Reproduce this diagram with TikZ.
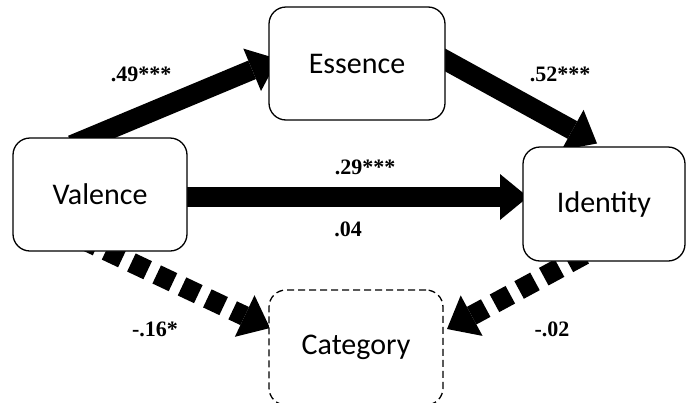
\documentclass[tikz,border=0pt]{standalone}
\usepackage{fontspec}
\setmainfont{Carlito}
\newfontfamily\labfont{Liberation Serif}
\usetikzlibrary{arrows.meta,backgrounds,calc}
\tikzset{
  varbox/.style={draw=black, line width=1.3pt, rounded corners=17pt, fill=white,
    inner sep=0pt, outer sep=0pt, font=\fontsize{30}{36}\selectfont},
  catbox/.style={varbox, dash pattern=on 7pt off 4pt},
  patharrow/.style={line width=20pt, draw=black,
    -{Triangle[length=28pt,width=46pt,line width=0pt]}},
  dasharrow/.style={patharrow, dash pattern=on 18pt off 10pt},
  coef/.style={font=\labfont\bfseries\fontsize{22}{26}\selectfont, inner sep=0pt}
}
\begin{document}
\begin{tikzpicture}[x=1pt,y=-1pt]
\useasboundingbox (0,0) rectangle (686,402);

\node[varbox, minimum width=174pt, minimum height=113pt] (val) at (100,194.5) {Valence};
\node[varbox, minimum width=176pt, minimum height=113pt] (ess) at (357,63.5) {Essence};
\node[varbox, minimum width=162pt, minimum height=114pt] (ide) at (604,204) {Identity};
\node[catbox, minimum width=174pt, minimum height=115pt] (cat) at (356,347.5) {Category};

\begin{pgfonlayer}{background}
\draw[patharrow] ($(val.north west)+(59,7)$) -- ($(ess.north west)+(9,52)$);
\draw[patharrow] ($(ess.north east)+(-18,43)$) -- ($(ide.north west)+(74,-3.5)$);
\draw[patharrow] ($(val.east)+(-7,2.5)$) -- ($(ide.west)+(5,-7)$);
\draw[dasharrow, dash phase=8pt] ($(val.south west)+(75,-9)$) -- ($(cat.north west)+(1,38)$);
\draw[dasharrow, dash phase=18pt] ($(ide.south west)+(70,-11)$) -- ($(cat.north east)+(4,39)$);
\end{pgfonlayer}

\node[coef] (c1) at (141,74) {.49***};
\node[coef] (c2) at (560,74) {.52***};
\node[coef] (c3) at (365,167) {.29***};
\node[coef] (c4) at (348,229) {.04};
\node[coef] (c5) at (155,329) {-.16*};
\node[coef] (c6) at (552,329) {-.02};
\end{tikzpicture}
\end{document}
